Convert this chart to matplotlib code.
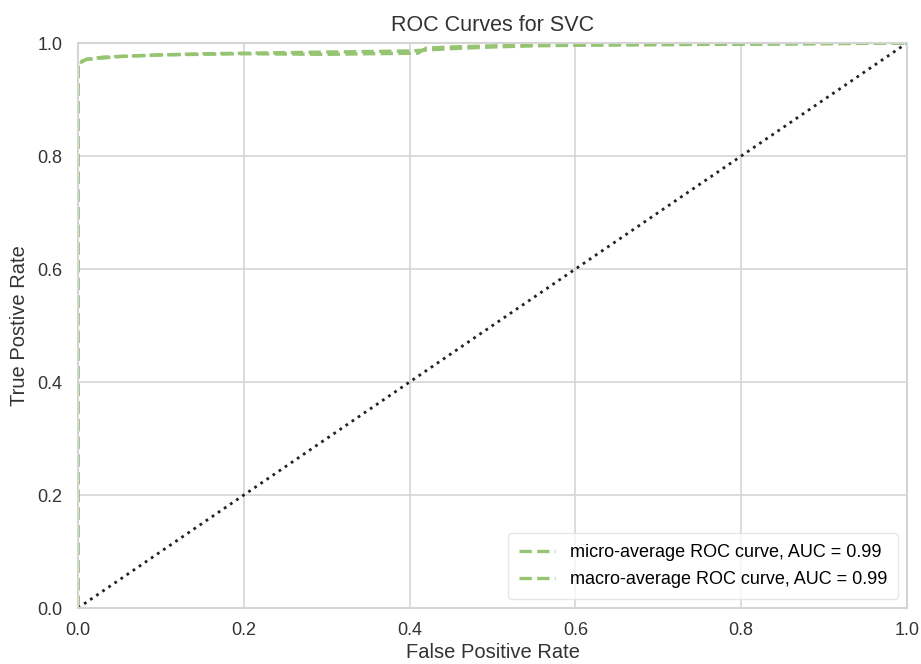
import matplotlib

matplotlib.use("Agg")
import matplotlib.pyplot as plt  # noqa: E402

# micro-average ROC curve
micro_fpr = [0.0, 0.0, 0.002, 0.004, 0.01, 0.03, 0.06, 0.1, 0.15, 0.2, 0.25, 0.3,
             0.35, 0.4, 0.45, 0.5, 0.55, 0.6, 0.7, 0.8, 0.9, 1.0]
micro_tpr = [0.0, 0.96, 0.968, 0.966, 0.971, 0.975, 0.977, 0.979, 0.981, 0.982, 0.983,
             0.984, 0.985, 0.986, 0.990, 0.993, 0.995, 0.996, 0.997, 0.998, 0.999, 1.0]

# macro-average ROC curve
macro_fpr = [0.0, 0.0, 0.003, 0.01, 0.05, 0.1, 0.2, 0.3, 0.35, 0.41, 0.42, 0.45,
             0.5, 0.55, 0.6, 0.8, 0.9, 1.0]
macro_tpr = [0.0, 0.962, 0.967, 0.971, 0.976, 0.979, 0.981, 0.980, 0.981, 0.982,
             0.991, 0.993, 0.995, 0.996, 0.997, 0.998, 0.999, 1.0]

micro_auc = 0.99
macro_auc = 0.99
ticks = [0.0, 0.2, 0.4, 0.6, 0.8, 1.0]

GREEN = "#96c472"
GRID = "#d5d5d5"
TEXT = "#333333"

plt.rcParams["font.family"] = ["Liberation Sans", "DejaVu Sans"]

fig = plt.figure(figsize=(9.21, 6.64), dpi=100)
ax = fig.add_axes([0.0847, 0.0843, 0.9001, 0.8509])

ax.plot(micro_fpr, micro_tpr, linestyle="--", color=GREEN, linewidth=2.4,
        label=f"micro-average ROC curve, AUC = {micro_auc:.2f}")
ax.plot(macro_fpr, macro_tpr, linestyle="--", color=GREEN, linewidth=2.4,
        label=f"macro-average ROC curve, AUC = {macro_auc:.2f}")
ax.plot([0, 1], [0, 1], linestyle=":", color="#222222", linewidth=2)

ax.set_xlim(0, 1)
ax.set_ylim(0, 1)
ax.set_xticks(ticks)
ax.set_yticks(ticks)
ax.tick_params(labelsize=13, colors=TEXT, length=0)
ax.tick_params(axis="x", pad=10)
ax.tick_params(axis="y", pad=11)
ax.grid(True, color=GRID, linewidth=1.2)
ax.set_axisbelow(True)
for sp in ax.spines.values():
    sp.set_color(GRID)
    sp.set_linewidth(1.5)

ax.set_title("ROC Curves for SVC", fontsize=15.5, color=TEXT, pad=9)
ax.set_xlabel("False Positive Rate", fontsize=14.5, color=TEXT, labelpad=3)
ax.set_ylabel("True Postive Rate", fontsize=14.5, color=TEXT, labelpad=6)

leg = ax.legend(loc="lower right", fontsize=13, frameon=True, handlelength=2.0,
                borderpad=0.6, labelspacing=0.55)
leg.get_frame().set_edgecolor("#e0e0e0")
leg.get_frame().set_facecolor("white")

fig.savefig("out.png", dpi=100)
plt.close(fig)
